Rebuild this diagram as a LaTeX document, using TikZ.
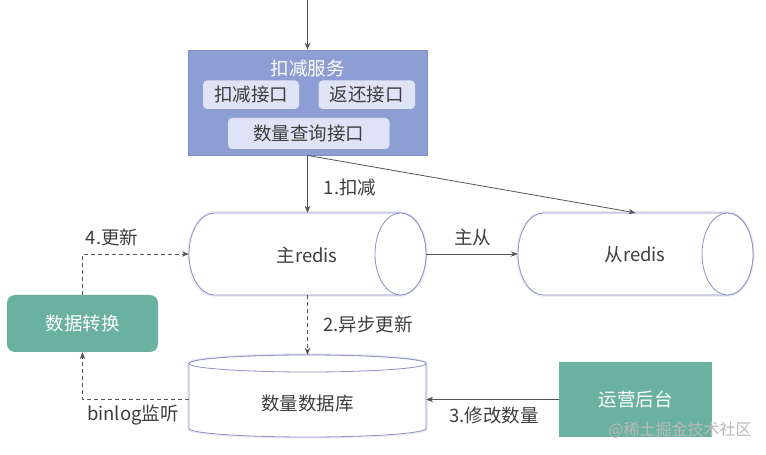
\documentclass[tikz,border=0pt]{standalone}
\usepackage{fontspec}
\setmainfont{Noto Sans CJK SC}
\usetikzlibrary{arrows.meta}
\definecolor{svcfill}{HTML}{8C9ED3}
\definecolor{svcline}{HTML}{7D8FC8}
\definecolor{innerfill}{HTML}{DEE4F5}
\definecolor{greenbox}{HTML}{6AB19F}
\definecolor{cylline}{HTML}{8E91C9}
\definecolor{txt}{HTML}{3E3E3E}
\definecolor{conn}{HTML}{555555}
\begin{document}
\begin{tikzpicture}[x=1pt,y=1pt,
  every node/.style={font=\fontsize{18.5}{22}\selectfont, text=txt},
  conn/.style={draw=conn, line width=0.8pt, -{Stealth[length=7pt,width=5.5pt]}},
  dconn/.style={conn, dash pattern=on 4pt off 3pt},
  innerbox/.style={fill=innerfill, rounded corners=4pt, inner sep=0pt},
  cyl/.style={draw=cylline, line width=0.8pt, fill=white,
    preaction={draw=cylline!18, line width=3.5pt}},
  cylring/.style={draw=cylline, line width=0.8pt, fill=white},
  lbl/.style={inner sep=0pt}
]
\useasboundingbox (0,0) rectangle (766,455);
\fill[white] (0,0) rectangle (766,455);

% service box
\node[draw=svcline, fill=svcfill, line width=0.8pt, minimum width=239pt, minimum height=105pt, inner sep=0pt] (svc) at (307.5,352.5) {};
\node[lbl, text=white] (svctitle) at (307.5,386) {扣减服务};
\node[innerbox, minimum width=96pt, minimum height=28.5pt] (kj) at (251,360.25) {扣减接口};
\node[innerbox, minimum width=96.5pt, minimum height=28.5pt] (hj) at (366.75,360.25) {返还接口};
\node[innerbox, minimum width=161.5pt, minimum height=31pt] (qj) at (308.75,321.5) {数量查询接口};

% main redis cylinder (horizontal)
\path[cyl] (214.5,242) -- (400.5,242) arc[start angle=90,end angle=-90,x radius=25.5,y radius=41] -- (214.5,160) arc[start angle=270,end angle=90,x radius=25.5,y radius=41] -- cycle;
\draw[cylring] (400.5,201) ellipse[x radius=25.5,y radius=41];
\node[minimum width=237pt, minimum height=82pt, inner sep=0pt] (mr) at (307.5,201) {};
\node[lbl] (mrtext) at (307,200) {主redis};

% slave redis cylinder
\path[cyl] (543.5,242) -- (727.5,242) arc[start angle=90,end angle=-90,x radius=25.5,y radius=41] -- (543.5,160) arc[start angle=270,end angle=90,x radius=25.5,y radius=41] -- cycle;
\draw[cylring] (727.5,201) ellipse[x radius=25.5,y radius=41];
\node[minimum width=235pt, minimum height=82pt, inner sep=0pt] (sr) at (635.5,201) {};
\node[lbl] (srtext) at (635,200) {从redis};

% database cylinder (vertical)
\path[cyl] (189,91.5) -- (189,26.5) arc[start angle=180,end angle=360,x radius=118.5,y radius=8.5] -- (426,91.5) arc[start angle=0,end angle=180,x radius=118.5,y radius=8.5] -- cycle;
\draw[cylring] (307.5,91.5) ellipse[x radius=118.5,y radius=8.5];
\node[minimum width=237pt, minimum height=82pt, inner sep=0pt] (db) at (307.5,59) {};
\node[lbl] (dbtext) at (307.5,51) {数量数据库};

% green boxes
\node[fill=greenbox, rounded corners=8pt, minimum width=151pt, minimum height=57pt, inner sep=0pt, text=white] (zh) at (82.5,131.5) {数据转换};
\node[fill=greenbox, minimum width=153pt, minimum height=75pt, inner sep=0pt, text=white] (yy) at (635.5,55.5) {运营后台};

% connectors
\coordinate (entry) at (307.5,455);
\draw[conn] (entry) -- (svc.north);
\draw[conn] (svc.south) -- (mr.north);
\draw[conn] (svc.south) -- (sr.north);
\draw[conn] (mr.east) -- (sr.west);
\draw[dconn] (mr.south) -- (db.north);
\draw[conn] (yy.west) -- (yy.west -| db.east);
\draw[dconn] (db.west |- yy.west) -| (zh.south);
\draw[dconn] (zh.north) |- (mr.west);

% labels
\node[lbl] (l1) at (350,267) {1.扣减};
\node[lbl] (l2) at (472.5,218) {主从};
\node[lbl] (l3) at (368,131) {2.异步更新};
\node[lbl] (l4) at (112,218) {4.更新};
\node[lbl] (l5) at (133,40) {binlog监听};
\node[lbl] (l6) at (494,40) {3.修改数量};
\node[lbl, text=gray!55, font=\fontsize{16}{19}\selectfont] (wm) at (680,25) {@稀土掘金技术社区};
\end{tikzpicture}
\end{document}
